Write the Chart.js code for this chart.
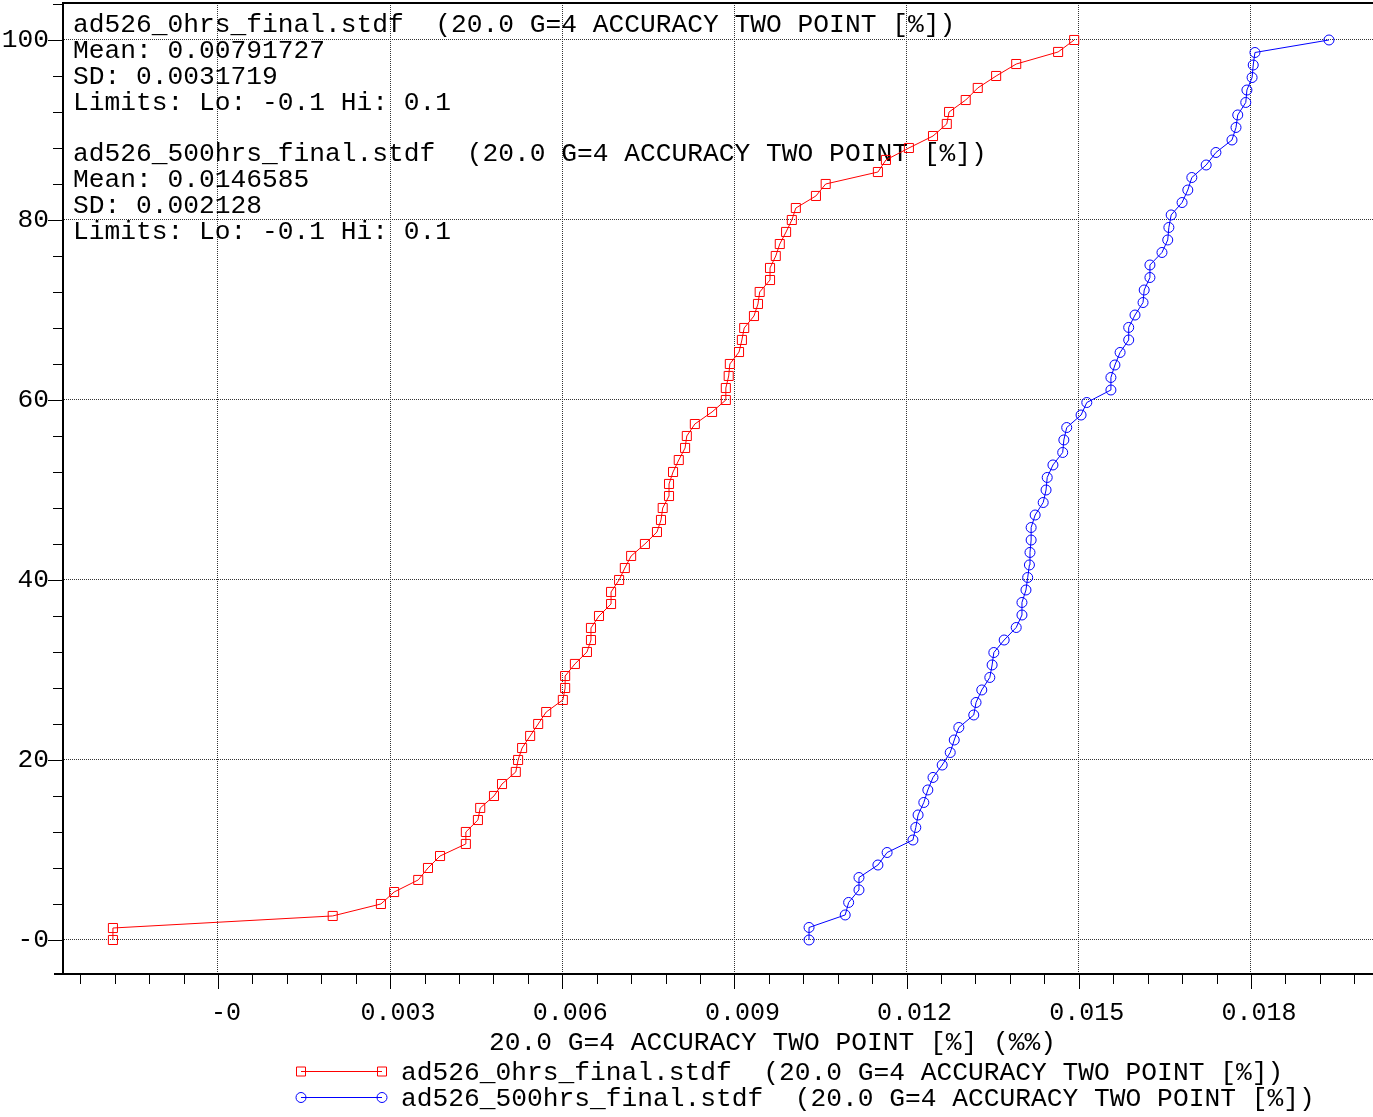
<!DOCTYPE html>
<html>
<head>
<meta charset="utf-8">
<title>ad526 accuracy two point</title>
<script src="https://cdn.jsdelivr.net/npm/chart.js@4.4.1/dist/chart.umd.min.js"></script>
<style>
  html, body { margin: 0; padding: 0; background: #fff; }
  #wrap { position: relative; width: 1373px; height: 1117px; }
</style>
</head>
<body>
<div id="wrap"><canvas id="chart"></canvas></div>
<script>
var FONT = '"Liberation Mono", "Courier New", monospace';

// ad526_0hrs: sorted readings and cumulative percent
var redX = [
    -0.00183, -0.00183, 0.00200, 0.00284, 0.00307, 0.00349, 0.00366, 0.00387, 0.00432, 0.00432,
    0.00453, 0.00457, 0.00481, 0.00495, 0.00519, 0.00523, 0.00530, 0.00544, 0.00558, 0.00572,
    0.00601, 0.00605, 0.00605, 0.00622, 0.00643, 0.00650, 0.00650, 0.00664, 0.00685, 0.00685,
    0.00699, 0.00709, 0.00720, 0.00744, 0.00765, 0.00772, 0.00775, 0.00786, 0.00786, 0.00793,
    0.00803, 0.00814, 0.00817, 0.00831, 0.00861, 0.00885, 0.00885, 0.00890, 0.00892, 0.00908,
    0.00913, 0.00917, 0.00934, 0.00941, 0.00944, 0.00962, 0.00962, 0.00972, 0.00979, 0.00990,
    0.01000, 0.01007, 0.01042, 0.01059, 0.01150, 0.01164, 0.01204, 0.01246, 0.01270, 0.01274,
    0.01303, 0.01324, 0.01356, 0.01391, 0.01464, 0.01492
];
var redY = [
    0, 1.33, 2.67, 4, 5.33, 6.67, 8, 9.33, 10.67, 12,
    13.33, 14.67, 16, 17.33, 18.67, 20, 21.33, 22.67, 24, 25.33,
    26.67, 28, 29.33, 30.67, 32, 33.33, 34.67, 36, 37.33, 38.67,
    40, 41.33, 42.67, 44, 45.33, 46.67, 48, 49.33, 50.67, 52,
    53.33, 54.67, 56, 57.33, 58.67, 60, 61.33, 62.67, 64, 65.33,
    66.67, 68, 69.33, 70.67, 72, 73.33, 74.67, 76, 77.33, 78.67,
    80, 81.33, 82.67, 84, 85.33, 86.67, 88, 89.33, 90.67, 92,
    93.33, 94.67, 96, 97.33, 98.67, 100
];

// ad526_500hrs
var blueX = [
    0.01030, 0.01030, 0.01093, 0.01099, 0.01117, 0.01117, 0.01150, 0.01166, 0.01211, 0.01216,
    0.01220, 0.01230, 0.01237, 0.01246, 0.01262, 0.01276, 0.01283, 0.01291, 0.01317, 0.01321,
    0.01331, 0.01345, 0.01349, 0.01352, 0.01370, 0.01391, 0.01401, 0.01401, 0.01408, 0.01411,
    0.01414, 0.01415, 0.01417, 0.01417, 0.01424, 0.01438, 0.01443, 0.01445, 0.01455, 0.01472,
    0.01474, 0.01479, 0.01504, 0.01514, 0.01556, 0.01556, 0.01563, 0.01572, 0.01587, 0.01587,
    0.01598, 0.01612, 0.01614, 0.01624, 0.01624, 0.01645, 0.01655, 0.01657, 0.01661, 0.01680,
    0.01690, 0.01697, 0.01722, 0.01739, 0.01767, 0.01774, 0.01777, 0.01791, 0.01793, 0.01802,
    0.01804, 0.01807, 0.01936
];
var blueY = [
    0, 1.39, 2.78, 4.17, 5.56, 6.94, 8.33, 9.72, 11.11, 12.5,
    13.89, 15.28, 16.67, 18.06, 19.44, 20.83, 22.22, 23.61, 25, 26.39,
    27.78, 29.17, 30.56, 31.94, 33.33, 34.72, 36.11, 37.5, 38.89, 40.28,
    41.67, 43.06, 44.44, 45.83, 47.22, 48.61, 50, 51.39, 52.78, 54.17,
    55.56, 56.94, 58.33, 59.72, 61.11, 62.5, 63.89, 65.28, 66.67, 68.06,
    69.44, 70.83, 72.22, 73.61, 75, 76.39, 77.78, 79.17, 80.56, 81.94,
    83.33, 84.72, 86.11, 87.5, 88.89, 90.28, 91.67, 93.06, 94.44, 95.83,
    97.22, 98.61, 100
];

var xMajorTicks = [0, 0.003, 0.006, 0.009, 0.012, 0.015, 0.018];
var xTickLabels = ['-0', '0.003', '0.006', '0.009', '0.012', '0.015', '0.018'];
var xMinorStep = 0.0006;
var yMajorTicks = [0, 20, 40, 60, 80, 100];
var yTickLabels = ['-0', '20', '40', '60', '80', '100'];
var yMinorStep = 4;

var seriesNames = [
    'ad526_0hrs_final.stdf  (20.0 G=4 ACCURACY TWO POINT [%])',
    'ad526_500hrs_final.stdf  (20.0 G=4 ACCURACY TWO POINT [%])'
];
var statsLines = [
    'ad526_0hrs_final.stdf  (20.0 G=4 ACCURACY TWO POINT [%])',
    'Mean: 0.00791727',
    'SD: 0.0031719',
    'Limits: Lo: -0.1 Hi: 0.1',
    '',
    'ad526_500hrs_final.stdf  (20.0 G=4 ACCURACY TWO POINT [%])',
    'Mean: 0.0146585',
    'SD: 0.002128',
    'Limits: Lo: -0.1 Hi: 0.1'
];
var xTitle = '20.0 G=4 ACCURACY TWO POINT [%] (%%)';

(function () {
    'use strict';

    var RED = '#ff0000';
    var BLUE = '#0000ff';

    function toPoints(xs, ys) {
        return xs.map(function (x, i) { return { x: x, y: ys[i] }; });
    }

    function isMultiple(v, step) {
        var r = v / step;
        return Math.abs(r - Math.round(r)) < 1e-6;
    }

    function marker(ctx, style, x, y, color) {
        ctx.strokeStyle = color;
        ctx.lineWidth = 1;
        ctx.beginPath();
        if (style === 'rect') {
            ctx.rect(x - 4.5, y - 4.5, 9, 9);
        } else {
            ctx.arc(x, y, 5, 0, Math.PI * 2);
        }
        ctx.stroke();
    }

    // no label overhang padding, the plot box is fixed
    function noPad(scale) {
        scale.paddingTop = 0;
        scale.paddingBottom = 0;
        scale.paddingLeft = 0;
        scale.paddingRight = 0;
    }

    var decor = {
        id: 'decor',
        beforeDatasetsDraw: function (chart) {
            var ctx = chart.ctx;
            var area = chart.chartArea;
            ctx.save();
            ctx.fillStyle = '#000';
            ctx.font = '26.25px ' + FONT;
            ctx.textAlign = 'left';
            ctx.textBaseline = 'middle';
            statsLines.forEach(function (line, i) {
                ctx.fillText(line, area.left + 10, area.top + 22 + i * 25.9);
            });
            ctx.restore();
        },
        afterDraw: function (chart) {
            var ctx = chart.ctx;
            var area = chart.chartArea;
            var xs = chart.scales.x;
            var ys = chart.scales.y;
            var i, v, p;
            ctx.save();
            ctx.strokeStyle = '#000';
            ctx.lineWidth = 1;

            // tick marks: long at majors, short at minors
            ctx.beginPath();
            for (i = Math.ceil(xs.min / xMinorStep); i * xMinorStep <= xs.max; i++) {
                v = i * xMinorStep;
                p = Math.round(xs.getPixelForValue(v)) + 0.5;
                ctx.moveTo(p, area.bottom);
                ctx.lineTo(p, area.bottom + (isMultiple(v, 0.003) ? 15 : 10));
            }
            for (i = Math.ceil(ys.min / yMinorStep); i * yMinorStep <= ys.max; i++) {
                v = i * yMinorStep;
                p = Math.round(ys.getPixelForValue(v)) + 0.5;
                ctx.moveTo(area.left, p);
                ctx.lineTo(area.left - (v % 20 === 0 ? 15 : 10), p);
            }
            ctx.stroke();

            // frame top and axis stub on the left
            ctx.lineWidth = 2;
            ctx.beginPath();
            ctx.moveTo(area.left, area.top);
            ctx.lineTo(area.right, area.top);
            ctx.moveTo(area.left - 9, area.bottom);
            ctx.lineTo(area.left, area.bottom);
            ctx.stroke();

            // axis title
            ctx.fillStyle = '#000';
            ctx.font = '26.25px ' + FONT;
            ctx.textAlign = 'left';
            ctx.textBaseline = 'middle';
            ctx.fillText(xTitle, 489, 1043);

            // legend
            var entries = [
                { y: 1071, color: RED, style: 'rect' },
                { y: 1097, color: BLUE, style: 'circle' }
            ];
            entries.forEach(function (e, k) {
                ctx.strokeStyle = e.color;
                ctx.lineWidth = 1;
                ctx.beginPath();
                ctx.moveTo(301, e.y + 0.5);
                ctx.lineTo(382, e.y + 0.5);
                ctx.stroke();
                marker(ctx, e.style, 301, e.y + 0.5, e.color);
                marker(ctx, e.style, 382, e.y + 0.5, e.color);
                ctx.fillStyle = '#000';
                ctx.fillText(seriesNames[k], 401, e.y + 2);
            });
            ctx.restore();
        }
    };

    var gridColor = '#333';

    new Chart(document.getElementById('chart'), {
        type: 'scatter',
        data: {
            datasets: [{
                label: seriesNames[0],
                data: toPoints(redX, redY),
                showLine: true,
                borderColor: RED,
                borderWidth: 1,
                pointStyle: 'rect',
                pointRadius: 6.4,
                pointBorderColor: RED,
                pointBackgroundColor: 'rgba(0,0,0,0)',
                pointBorderWidth: 1
            }, {
                label: seriesNames[1],
                data: toPoints(blueX, blueY),
                showLine: true,
                borderColor: BLUE,
                borderWidth: 1,
                pointStyle: 'circle',
                pointRadius: 5,
                pointBorderColor: BLUE,
                pointBackgroundColor: 'rgba(0,0,0,0)',
                pointBorderWidth: 1
            }]
        },
        options: {
            responsive: true,
            maintainAspectRatio: false,
            animation: false,
            events: [],
            layout: { autoPadding: false, padding: { top: 3, left: 0, right: 0, bottom: 0 } },
            plugins: {
                legend: { display: false },
                tooltip: { enabled: false }
            },
            scales: {
                x: {
                    type: 'linear',
                    min: -0.0027,
                    max: 0.020127,
                    afterFit: function (scale) { scale.height = 143; noPad(scale); },
                    afterBuildTicks: function (scale) {
                        scale.ticks = xMajorTicks.map(function (v) { return { value: v }; });
                    },
                    ticks: {
                        padding: 24,
                        labelOffset: 8,
                        maxRotation: 0,
                        autoSkip: false,
                        color: '#000',
                        font: { family: FONT, size: 25 },
                        callback: function (value) {
                            var i = xMajorTicks.indexOf(value);
                            return i >= 0 ? xTickLabels[i] : '';
                        }
                    },
                    grid: { color: gridColor, lineWidth: 1, drawTicks: false },
                    border: { display: true, color: '#000', width: 2, dash: [1, 1] }
                },
                y: {
                    type: 'linear',
                    min: -3.78,
                    max: 104.11,
                    afterFit: function (scale) { scale.width = 63; noPad(scale); },
                    afterBuildTicks: function (scale) {
                        scale.ticks = yMajorTicks.map(function (v) { return { value: v }; });
                    },
                    ticks: {
                        padding: 14,
                        autoSkip: false,
                        color: '#000',
                        font: { family: FONT, size: 26.25 },
                        callback: function (value) {
                            var i = yMajorTicks.indexOf(value);
                            return i >= 0 ? yTickLabels[i] : '';
                        }
                    },
                    grid: { color: gridColor, lineWidth: 1, drawTicks: false },
                    border: { display: true, color: '#000', width: 2, dash: [1, 1] }
                }
            }
        },
        plugins: [decor]
    });
})();
</script>
</body>
</html>
